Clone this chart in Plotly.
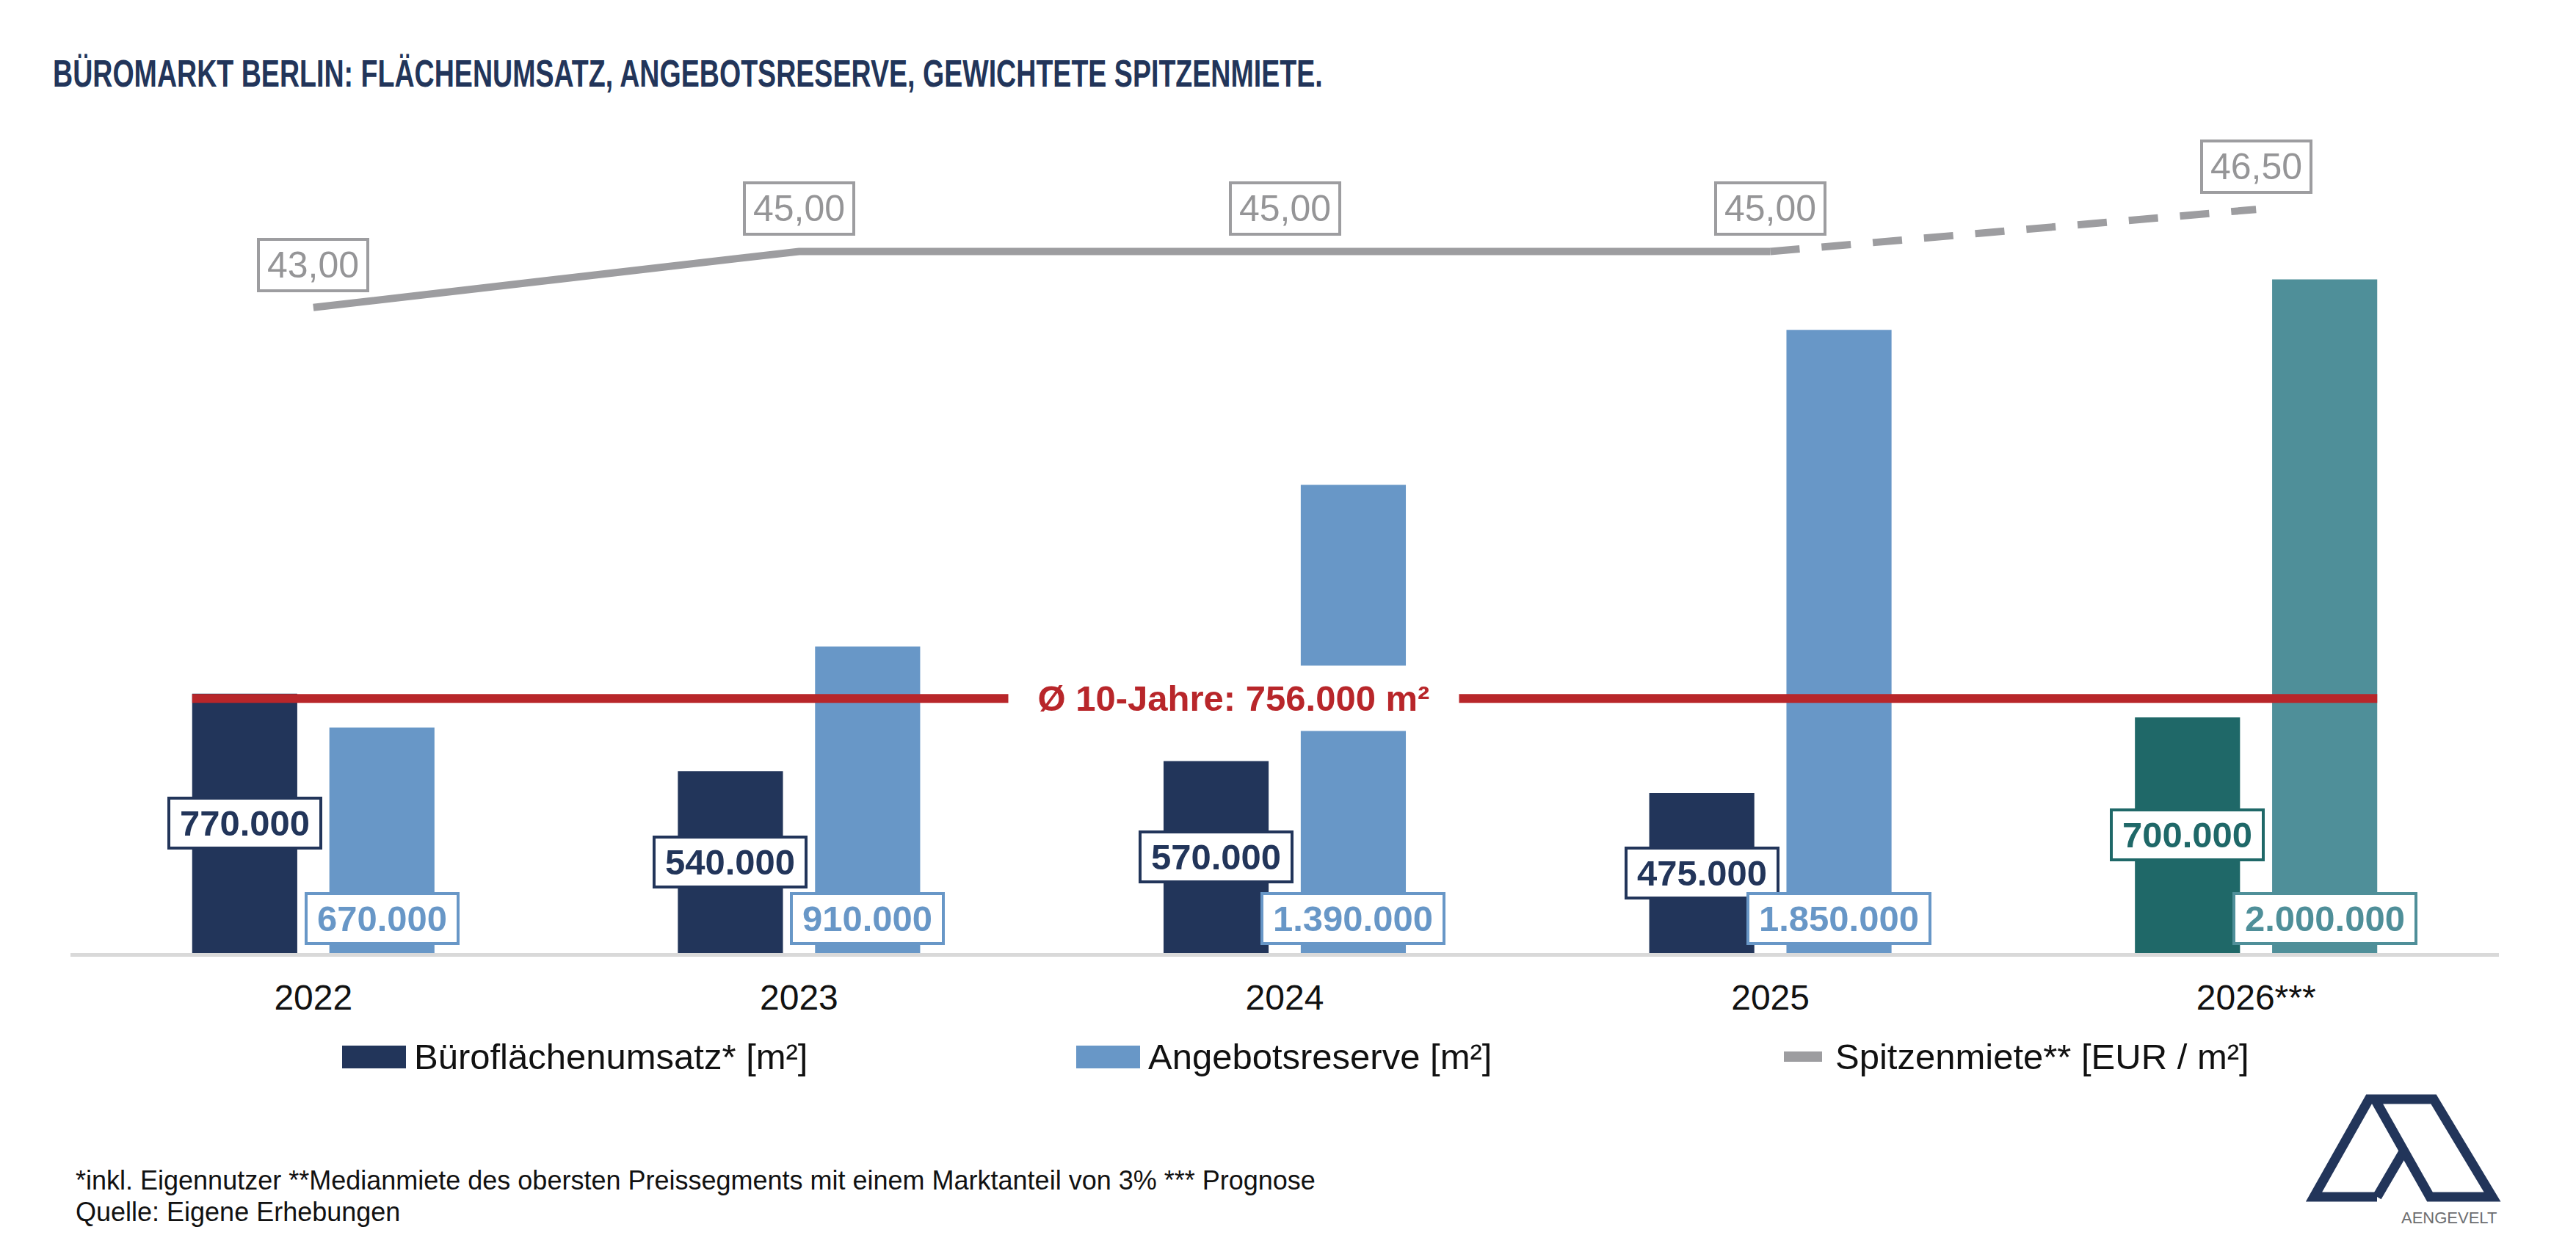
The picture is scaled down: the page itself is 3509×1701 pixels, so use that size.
import plotly.graph_objects as go

# ---------------- data ----------------
YEARS = ["2022", "2023", "2024", "2025", "2026***"]
UMSATZ = [770000, 540000, 570000, 475000, 700000]          # Büroflächenumsatz [m²]
ANGEBOT = [670000, 910000, 1390000, 1850000, 2000000]      # Angebotsreserve [m²]
MIETE = [43.00, 45.00, 45.00, 45.00, 46.50]                # Spitzenmiete [EUR/m²]
AVG_10Y = 756000
FORECAST = [False, False, False, False, True]

TITLE = "BÜROMARKT BERLIN: FLÄCHENUMSATZ, ANGEBOTSRESERVE, GEWICHTETE SPITZENMIETE."
AVG_LABEL = "Ø 10-Jahre: 756.000 m²"
LEGEND_NAMES = ["Büroflächenumsatz* [m²]", "Angebotsreserve [m²]", "Spitzenmiete** [EUR / m²]"]
FOOTNOTE_1 = "*inkl. Eigennutzer **Medianmiete des obersten Preissegments mit einem Marktanteil von 3% *** Prognose"
FOOTNOTE_2 = "Quelle: Eigene Erhebungen"
LOGO_TEXT = "AENGEVELT"

# ---------------- style ----------------
W, H = 3509, 1701
ML, MR, MT, MB = 96, 105, 200, 403
PW, PH = W - ML - MR, H - MT - MB
FONT = "Liberation Sans, Arial, sans-serif"
NAVY = "#22355a"
LIGHT = "#6897c7"
TEAL_D = "#1f6868"
TEAL_L = "#4f8f99"
RED = "#b8262a"
GREY = "#9d9da0"
GREY_TXT = "#959597"
AXIS = "#d9d9d9"

BARGAP, GROUPGAP = 0.435, 0.234
SLOT = (1 - BARGAP) / 2
OFF = SLOT / 2
BW = SLOT * (1 - GROUPGAP)

def px(x):
    return (x - ML) / PW

def py(y):
    return (H - MB - y) / PH

def fmt_de(v, dec=0):
    s = f"{v:,.{dec}f}"
    return s.replace(",", "X").replace(".", ",").replace("X", ".")

CW = {".": 0.278, ",": 0.278}
def tw(s, fs):
    return sum(CW.get(c, 0.556) for c in s) * fs

dark_cols = [TEAL_D if f else NAVY for f in FORECAST]
light_cols = [TEAL_L if f else LIGHT for f in FORECAST]

fig = go.Figure()
fig.add_trace(go.Bar(x=YEARS, y=UMSATZ, marker=dict(color=dark_cols, line=dict(width=0)),
                     name=LEGEND_NAMES[0], showlegend=False))
fig.add_trace(go.Bar(x=YEARS, y=ANGEBOT, marker=dict(color=light_cols, line=dict(width=0)),
                     name=LEGEND_NAMES[1], showlegend=False))
# rent line: actual (solid) and forecast (dashed)
n_act = FORECAST.index(True)
fig.add_trace(go.Scatter(x=YEARS[:n_act], y=MIETE[:n_act], yaxis="y2", mode="lines",
                         line=dict(color=GREY, width=10), showlegend=False))
fig.add_trace(go.Scatter(x=YEARS[n_act - 1:], y=MIETE[n_act - 1:], yaxis="y2", mode="lines",
                         line=dict(color=GREY, width=10, dash="40px,30px"), showlegend=False))

ann = []
shapes = []

# average line
shapes.append(dict(type="line", xref="x", yref="y", x0=-OFF - BW / 2, x1=len(YEARS) - 1 + OFF + BW / 2,
                   y0=AVG_10Y, y1=AVG_10Y, line=dict(color=RED, width=12), layer="above"))
ann.append(dict(xref="x", yref="y", x=1.895, y=AVG_10Y, text=AVG_LABEL, showarrow=False,
                font=dict(family=FONT, size=49, color=RED, weight="bold"),
                bgcolor="white", borderpad=17, width=579, xanchor="center", yanchor="middle"))

# bar labels
for i, (u, a) in enumerate(zip(UMSATZ, ANGEBOT)):
    t = fmt_de(u)
    ann.append(dict(xref="x", yref="y", x=i - OFF, y=u / 2, text=t, showarrow=False,
                    font=dict(family=FONT, size=49, color=dark_cols[i], weight="bold"),
                    bgcolor="white", bordercolor=dark_cols[i], borderwidth=4, borderpad=5,
                    width=tw(t, 49) + 16, xanchor="center", yanchor="middle"))
    t = fmt_de(a)
    ann.append(dict(xref="x", yref="y", x=i + OFF, y=0, yshift=47, text=t, showarrow=False,
                    font=dict(family=FONT, size=49, color=light_cols[i], weight="bold"),
                    bgcolor="white", bordercolor=light_cols[i], borderwidth=4, borderpad=5,
                    width=tw(t, 49) + 16, xanchor="center", yanchor="middle"))

# rent labels
for i, m in enumerate(MIETE):
    t = fmt_de(m, 2)
    ann.append(dict(xref="x", yref="y2", x=i, y=m, yshift=58, text=t, showarrow=False,
                    font=dict(family=FONT, size=50, color=GREY_TXT),
                    bgcolor="white", bordercolor=GREY, borderwidth=4, borderpad=5,
                    width=tw(t, 50) + 10, xanchor="center", yanchor="middle"))

# legend (manual)
LY = 1439
shapes.append(dict(type="rect", xref="paper", yref="paper", x0=px(466), x1=px(553),
                   y0=py(1424), y1=py(1455), fillcolor=NAVY, line=dict(width=0)))
shapes.append(dict(type="rect", xref="paper", yref="paper", x0=px(1466), x1=px(1553),
                   y0=py(1424), y1=py(1455), fillcolor=LIGHT, line=dict(width=0)))
shapes.append(dict(type="path", xref="paper", yref="paper",
                   path=f"M{px(2430)},{py(LY)} L{px(2482)},{py(LY)}",
                   line=dict(color=GREY, width=14)))
for xs, name in zip([562, 1562, 2498], LEGEND_NAMES):
    ann.append(dict(xref="paper", yref="paper", x=px(xs), y=py(LY), text=name, showarrow=False,
                    font=dict(family=FONT, size=49, color="#111111"), xanchor="left", yanchor="middle"))

# footnotes
ann.append(dict(xref="paper", yref="paper", x=px(101), y=py(1607), text=FOOTNOTE_1, showarrow=False,
                font=dict(family=FONT, size=36, color="#111111"), xanchor="left", yanchor="middle"))
ann.append(dict(xref="paper", yref="paper", x=px(101), y=py(1650), text=FOOTNOTE_2, showarrow=False,
                font=dict(family=FONT, size=36, color="#111111"), xanchor="left", yanchor="middle"))

# logo
def P(pts):
    return "M" + " L".join(f"{px(a)},{py(b)}" for a, b in pts)
shapes.append(dict(type="path", xref="paper", yref="paper",
                   path=P([(3238, 1630), (3152, 1630), (3227, 1497), (3315, 1497), (3395, 1630),
                           (3310, 1630), (3235, 1497)]),
                   line=dict(color=NAVY, width=13)))
shapes.append(dict(type="path", xref="paper", yref="paper",
                   path=P([(3238, 1630), (3276, 1565)]), line=dict(color=NAVY, width=13)))
ann.append(dict(xref="paper", yref="paper", x=px(3403), y=py(1658), text=LOGO_TEXT, showarrow=False,
                font=dict(family=FONT, size=22, color="#6d6e71"), xanchor="right", yanchor="middle"))

YMAX = 2000000 * PH / 917.5
fig.update_layout(
    width=W, height=H,
    margin=dict(l=ML, r=MR, t=MT, b=MB, pad=0),
    paper_bgcolor="white", plot_bgcolor="white",
    barmode="group", bargap=BARGAP, bargroupgap=GROUPGAP,
    title=dict(text=TITLE, x=72 / W, xanchor="left", y=1 - 100 / H, yanchor="middle",
               font=dict(family=FONT, size=52, color=NAVY, weight="bold")),
    xaxis=dict(range=[-0.5, len(YEARS) - 0.5], showline=True, linecolor=AXIS, linewidth=5,
               showgrid=False, zeroline=False, ticks="", ticklabelstandoff=14,
               tickfont=dict(family=FONT, size=48, color="#111111")),
    yaxis=dict(range=[0, YMAX], visible=False, showgrid=False, zeroline=False),
    yaxis2=dict(range=[19.98, 48.73], overlaying="y", visible=False, showgrid=False, zeroline=False),
    showlegend=False,
    annotations=ann, shapes=shapes,
)

# the reference title is set in a condensed cut: narrow the title text horizontally to its width
TITLE_WIDTH_PX = 1730
post = """
(function(){
  var gd = document.getElementById('{plot_id}');
  function fix(){
    var t = gd.querySelector('text.gtitle');
    if(!t) return;
    t.removeAttribute('transform');
    var bb = t.getBBox();
    if(!bb.width) return;
    var s = %d / bb.width;
    t.setAttribute('transform', 'matrix(' + s + ',0,0,1,' + (bb.x * (1 - s)) + ',0)');
  }
  fix();
  if (gd.on) gd.on('plotly_afterplot', fix);
  setTimeout(fix, 200);
})();
""" % TITLE_WIDTH_PX
fig.write_html("out.html", post_script=post)
